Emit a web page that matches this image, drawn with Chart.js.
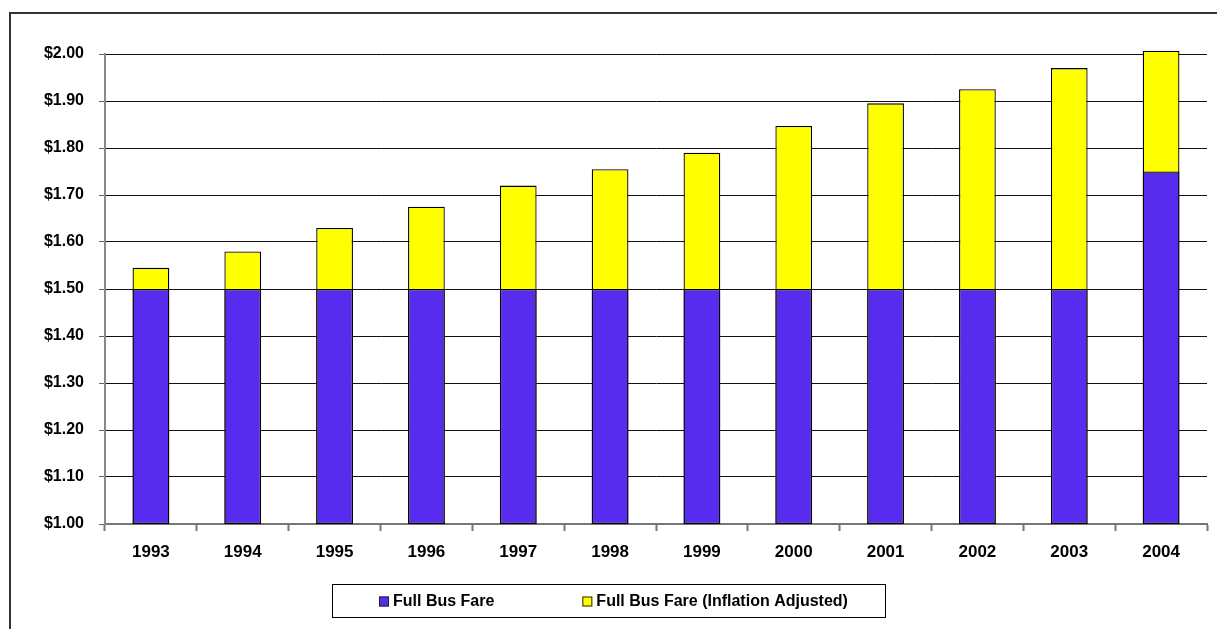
<!DOCTYPE html>
<html>
<head>
<meta charset="utf-8">
<title>Full Bus Fare</title>
<script src="https://cdn.jsdelivr.net/npm/chart.js@4/dist/chart.umd.min.js"></script>
<style>
    html, body { margin: 0; padding: 0; background: #fff; overflow: hidden; }
    .frame {
        position: absolute; left: 9px; top: 12px; width: 1300px; height: 700px;
        border-left: 2px solid #333; border-top: 2px solid #333;
    }
    .chart-wrap { position: absolute; left: 0; top: 0; width: 1217px; height: 629px; }
</style>
</head>
<body>
<div class="frame"></div>
<div class="chart-wrap"><canvas id="fareChart" width="1217" height="629"></canvas></div>
<script>
// Chart data
const years = ['1993', '1994', '1995', '1996', '1997', '1998', '1999', '2000', '2001', '2002', '2003', '2004'];
const fullFare = [1.50, 1.50, 1.50, 1.50, 1.50, 1.50, 1.50, 1.50, 1.50, 1.50, 1.50, 1.75];
const adjustedFare = [1.545, 1.58, 1.63, 1.675, 1.72, 1.755, 1.79, 1.847, 1.895, 1.925, 1.97, 2.007];
const fareTicks = [1.00, 1.10, 1.20, 1.30, 1.40, 1.50, 1.60, 1.70, 1.80, 1.90, 2.00];
const seriesLabels = ['Full Bus Fare', 'Full Bus Fare (Inflation Adjusted)'];
const seriesColors = ['#582CEE', '#FFFF00'];

const AXIS_MIN = fareTicks[0];
const AXIS_MAX = fareTicks[fareTicks.length - 1];

const fareChart = {
    // Boxed legend under the plot, like the original sheet
    legendBox: {
        id: 'legendBox',
        afterDraw: (chart) => {
            const ctx = chart.ctx;
            const box = { left: 332, top: 584, right: 885, bottom: 617 };
            ctx.save();
            ctx.strokeStyle = '#000';
            ctx.lineWidth = 1;
            ctx.strokeRect(box.left + 0.5, box.top + 0.5, box.right - box.left, box.bottom - box.top);

            ctx.font = 'bold 16px "Liberation Sans", Arial, sans-serif';
            ctx.textBaseline = 'middle';
            const gap = 4, between = 88, sq = 10;
            const widths = chart.data.datasets.map(ds => ctx.measureText(ds.label).width);
            const total = widths.reduce((a, w) => a + sq + gap + w, 0) + between * (widths.length - 1);
            let x = Math.round((box.left + box.right) / 2 - total / 2) + 5;
            const cy = (box.top + box.bottom) / 2 + 1;

            chart.data.datasets.forEach((ds, i) => {
                ctx.fillStyle = ds.backgroundColor;
                ctx.fillRect(x, cy - sq / 2, sq, sq);
                ctx.strokeStyle = '#222';
                ctx.strokeRect(x + 0.5, cy - sq / 2 + 0.5, sq - 1, sq - 1);
                ctx.fillStyle = '#000';
                ctx.fillText(ds.label, x + sq + gap, cy);
                x += sq + gap + widths[i] + between;
            });
            ctx.restore();
        }
    },

    init: () => {
        const canvas = document.getElementById('fareChart');
        if (!canvas) return;

        // Floating bars from the axis floor so the tallest one may poke over $2.00
        const fromFloor = (arr) => arr.map(v => [AXIS_MIN, v]);

        new Chart(canvas, {
            type: 'bar',
            data: {
                labels: years,
                datasets: [{
                    label: seriesLabels[0],
                    data: fromFloor(fullFare),
                    backgroundColor: seriesColors[0],
                    borderColor: '#000',
                    borderWidth: 1.3,
                    borderSkipped: false,
                    order: 0
                }, {
                    label: seriesLabels[1],
                    data: fromFloor(adjustedFare),
                    backgroundColor: seriesColors[1],
                    borderColor: '#000',
                    borderWidth: 1.3,
                    borderSkipped: false,
                    clip: { left: 0, top: 12, right: 0, bottom: 0 },
                    order: 1
                }]
            },
            options: {
                responsive: false,
                animation: false,
                categoryPercentage: 1,
                barPercentage: 0.4,
                layout: { padding: { top: 54, right: 10, left: 0, bottom: 55 } },
                plugins: {
                    legend: { display: false },
                    tooltip: { enabled: false }
                },
                scales: {
                    x: {
                        stacked: true,
                        afterFit: (scale) => { scale.height = 50; },
                        grid: {
                            offset: true,
                            drawOnChartArea: false,
                            tickLength: 7,
                            tickColor: '#777',
                            tickWidth: 2
                        },
                        border: { color: '#777', width: 2 },
                        ticks: {
                            color: '#000',
                            padding: 11,
                            font: { family: '"Liberation Sans", Arial, sans-serif', size: 17, weight: 'bold' }
                        }
                    },
                    y: {
                        min: AXIS_MIN,
                        max: AXIS_MAX,
                        afterFit: (scale) => { scale.width = 105; },
                        afterBuildTicks: (scale) => {
                            scale.ticks = fareTicks.map(v => ({ value: v }));
                        },
                        grid: {
                            color: '#111',
                            lineWidth: 1,
                            tickLength: 6,
                            tickColor: '#666'
                        },
                        border: { color: '#888', width: 2 },
                        ticks: {
                            color: '#000',
                            padding: 15,
                            font: { family: '"Liberation Sans", Arial, sans-serif', size: 16, weight: 'bold' },
                            callback: (v) => '$' + Number(v).toFixed(2)
                        }
                    }
                }
            },
            plugins: [fareChart.legendBox]
        });
    }
};

fareChart.init();
</script>
</body>
</html>
